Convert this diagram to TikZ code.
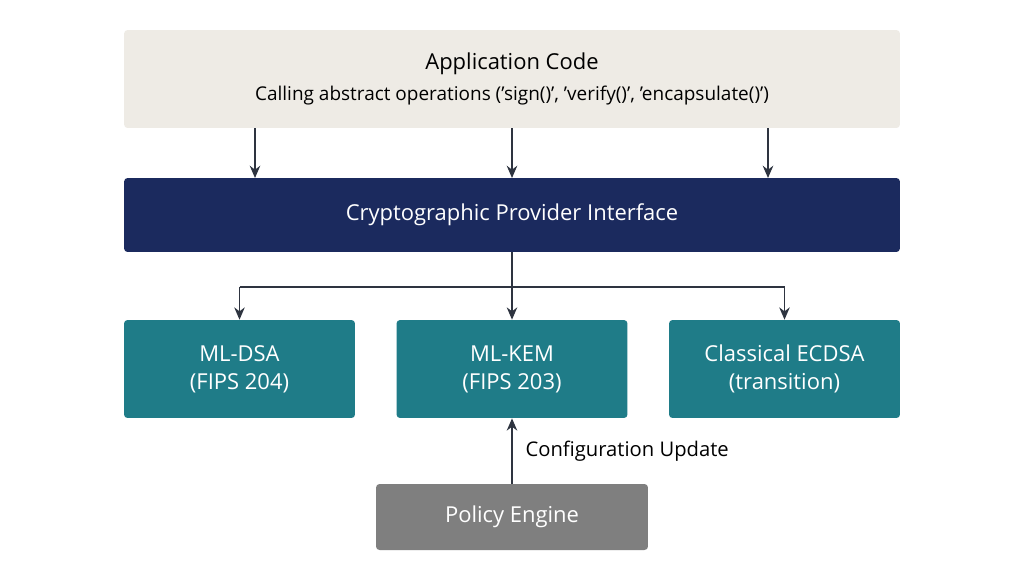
\documentclass[tikz,border=0pt]{standalone}
\usepackage{fontspec}
\setmainfont{Open Sans}
\definecolor{appbg}{HTML}{EEEBE5}
\definecolor{navy}{HTML}{1B2A5E}
\definecolor{teal}{HTML}{1F7C88}
\definecolor{policy}{HTML}{7F7F7F}
\definecolor{line}{HTML}{2E3440}
\usetikzlibrary{arrows.meta}

\begin{document}
\begin{tikzpicture}
         [x=0.02cm,y=-0.02cm,
          box/.style={rounded corners=2pt,inner sep=0pt,align=center,font=\fontsize{12.5}{16}\selectfont},
          algo/.style={box,fill=teal,text=white,minimum width=4.62cm,minimum height=1.96cm},
          arr/.style={draw=line,thick,-{Stealth[length=7pt,width=6pt]}}]
         \useasboundingbox[fill=white] (0,0) rectangle (1024,572);
         \node[box,fill=appbg,minimum width=15.52cm,minimum height=1.96cm] (app) at (512,79)
            {Application Code\\[2pt]{\fontsize{10.8}{13}\selectfont Calling abstract operations ('sign()', 'verify()', 'encapsulate()')}};
         \node[box,fill=navy,text=white,minimum width=15.52cm,minimum height=1.48cm] (cpi) at (512,215)
            {Cryptographic Provider Interface};
         \node[algo] (dsa) at (239.5,369) {ML-DSA\\(FIPS 204)};
         \node[algo] (kem) at (512,369) {ML-KEM\\(FIPS 203)};
         \node[algo] (ecdsa) at (784.5,369) {Classical ECDSA\\(transition)};
         \node[box,fill=policy,text=white,minimum width=5.44cm,minimum height=1.32cm] (pol) at (512,517)
            {Policy Engine};
         \coordinate (split) at (512,287);
         \foreach \x in {255,512,768}
            \draw[arr] (\x,128) -- (\x,178);
         \draw[draw=line,thick] (cpi.south) -- (split);
         \draw[draw=line,thick] (239.5,287) -- (784.5,287);
         \foreach \n in {dsa,kem,ecdsa}
            \draw[arr] (split -| \n.north) -- (\n.north);
         \draw[arr] (pol.north) -- node[right=4pt,font=\fontsize{11.5}{14}\selectfont] {Configuration Update} (kem.south);
       \end{tikzpicture}
\end{document}
